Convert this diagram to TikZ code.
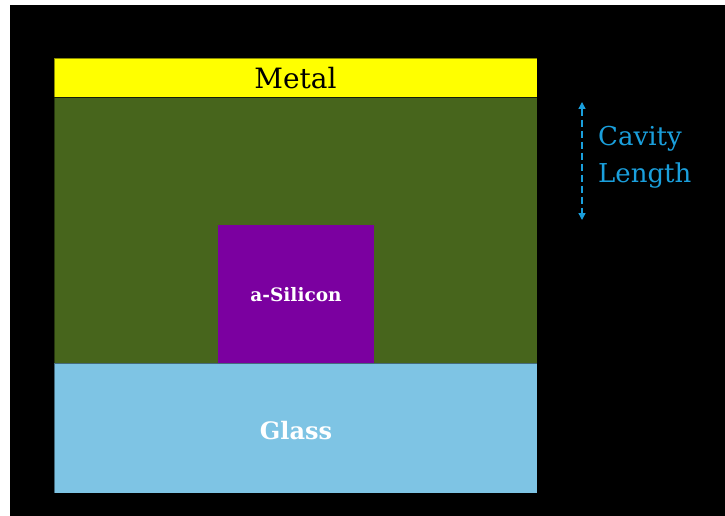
\documentclass[tikz,border=0pt]{standalone}
\usepackage{fontspec}
\setmainfont{DejaVu Serif}
\usetikzlibrary{arrows.meta}
\definecolor{metalY}{HTML}{FFFF00}
\definecolor{fillG}{HTML}{47651C}
\definecolor{siP}{HTML}{7B00A0}
\definecolor{glassB}{HTML}{7EC4E4}
\definecolor{cavC}{HTML}{1A9FDC}
\begin{document}
\begin{tikzpicture}[x=1pt,y=-1pt,
  layer/.style={draw=black,draw opacity=0.45,line width=0.8pt,inner sep=0pt,outer sep=0pt},
  lbl/.style={inner sep=0pt,font=\fontsize{28}{30}\selectfont}]
\useasboundingbox (0,0) rectangle (725,516);
\fill[white] (0,0) rectangle (725,516);
\fill[black] (10,5) rectangle (725,516);
% layers
\path[fill=fillG,layer] (54,97) rectangle (537,363);
\path[fill=metalY,layer] (54,58) rectangle (537,97);
\path[fill=glassB,layer] (54,363) rectangle (537,493);
\path[fill=siP] (218,225) rectangle (374,363);
\node[lbl,anchor=base] (metal) at (295.5,89) {Metal};
\node[inner sep=0pt,anchor=base,text=white,font=\bfseries\fontsize{18.5}{20}\selectfont] (si) at (296,301) {a-Silicon};
\node[inner sep=0pt,anchor=base,text=white,font=\bfseries\fontsize{24}{26}\selectfont] (glass) at (296,439) {Glass};
% cavity length
\coordinate (ctop) at (582,102);
\coordinate (cbot) at (582,220);
\draw[cavC,line width=1.4pt,dash pattern=on 7pt off 4pt,{Stealth[length=7pt,width=7pt,inset=0pt]}-{Stealth[length=7pt,width=7pt,inset=0pt]}] (ctop) -- (cbot);
\node[inner sep=0pt,anchor=base west,text=cavC,font=\fontsize{26}{28}\selectfont] (cav) at (598,145) {Cavity};
\node[inner sep=0pt,anchor=base west,text=cavC,font=\fontsize{26}{28}\selectfont] (len) at (598,182) {Length};
\end{tikzpicture}
\end{document}
